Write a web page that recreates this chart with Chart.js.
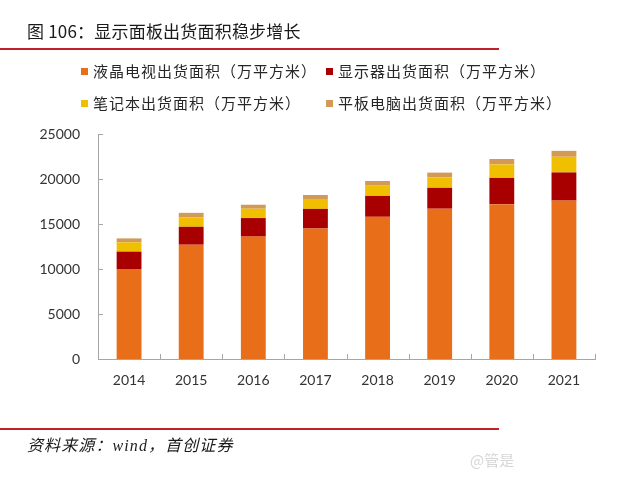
<!DOCTYPE html>
<html>
<head>
<meta charset="utf-8">
<script src="https://cdn.jsdelivr.net/npm/chart.js@4.4.1/dist/chart.umd.min.js"></script>
<style>
  html, body { margin: 0; padding: 0; background: #fff; }
  #wrap { position: relative; width: 640px; height: 480px; overflow: hidden; background: #fff; }
  #c { position: absolute; left: 0; top: 0; }
  .title { position: absolute; left: 27px; top: 18px; font-family: "Noto Sans CJK SC", sans-serif; font-size: 17px; letter-spacing: 0.2px; color: #1a1a1a; white-space: nowrap; }
  .rule { position: absolute; left: 0; width: 499px; height: 2px; background: #C0202A; }
  .leg { position: absolute; font-family: "Noto Sans CJK SC", sans-serif; font-size: 15px; letter-spacing: 1.0px; color: #262626; white-space: nowrap; line-height: 16px; }
  .sw { position: absolute; width: 7px; height: 7px; }
  .src { position: absolute; left: 27px; top: 432px; font-family: "Liberation Serif", "Noto Sans CJK SC", serif; font-style: italic; font-size: 16px; letter-spacing: 1.1px; color: #1a1a1a; white-space: nowrap; }
  .wm { position: absolute; left: 470px; top: 449px; font-family: "Noto Sans CJK SC", sans-serif; font-size: 15px; color: #d6d6d6; white-space: nowrap; }
</style>
</head>
<body>
<div id="wrap">
  <canvas id="c" width="640" height="480"></canvas>
  <div class="title">图 106：显示面板出货面积稳步增长</div>
  <div class="rule" style="top:48px"></div>
  <div id="legend"></div>
  <div class="rule" style="top:428px"></div>
  <div class="src">资料来源：wind，首创证券</div>
  <div class="wm">@管是</div>
</div>
<script>
const years = ['2014', '2015', '2016', '2017', '2018', '2019', '2020', '2021'];
const lcdTv    = [10000, 12700, 13600, 14500, 15800, 16700, 17200, 17600];
const monitor  = [1930, 1990, 2060, 2180, 2320, 2320, 2920, 3130];
const notebook = [1030, 1030, 1040, 1100, 1140, 1170, 1500, 1740];
const tablet   = [440, 520, 440, 440, 520, 520, 600, 660];
const seriesNames = ['液晶电视出货面积（万平方米）', '显示器出货面积（万平方米）', '笔记本出货面积（万平方米）', '平板电脑出货面积（万平方米）'];
const seriesColors = ['#E86E1A', '#A80000', '#F0C000', '#D29A56'];
const yTicks = [0, 5000, 10000, 15000, 20000, 25000];

// HTML legend (2 x 2 grid)
const legendPos = [[81, 63], [326, 63], [81, 95], [326, 95]];
const legendEl = document.getElementById('legend');
seriesNames.forEach((name, i) => {
  const [lx, ly] = legendPos[i];
  const sw = document.createElement('div');
  sw.className = 'sw';
  sw.style.left = lx + 'px';
  sw.style.top = (ly + 5) + 'px';
  sw.style.background = seriesColors[i];
  legendEl.appendChild(sw);
  const t = document.createElement('div');
  t.className = 'leg';
  t.style.left = (lx + 12) + 'px';
  t.style.top = ly + 'px';
  t.textContent = name;
  legendEl.appendChild(t);
});

const axisColor = '#A6A6A6';
const tickMarks = {
  id: 'tickMarks',
  afterDraw(chart) {
    const ctx = chart.ctx;
    const x = chart.scales.x, y = chart.scales.y;
    ctx.save();
    ctx.strokeStyle = axisColor;
    ctx.lineWidth = 1;
    y.ticks.forEach(t => {
      const py = Math.round(y.getPixelForValue(t.value)) + 0.5;
      ctx.beginPath();
      ctx.moveTo(x.left, py);
      ctx.lineTo(x.left + 5, py);
      ctx.stroke();
    });
    const n = years.length;
    const step = (x.right - x.left) / n;
    for (let i = 1; i <= n; i++) {
      const px = Math.round(x.left + step * i) + 0.5;
      ctx.beginPath();
      ctx.moveTo(px, x.top);
      ctx.lineTo(px, x.top - 5);
      ctx.stroke();
    }
    ctx.restore();
  }
};

new Chart(document.getElementById('c'), {
  type: 'bar',
  data: {
    labels: years,
    datasets: [
      { label: seriesNames[0], data: lcdTv, backgroundColor: seriesColors[0] },
      { label: seriesNames[1], data: monitor, backgroundColor: seriesColors[1] },
      { label: seriesNames[2], data: notebook, backgroundColor: seriesColors[2] },
      { label: seriesNames[3], data: tablet, backgroundColor: seriesColors[3] }
    ]
  },
  options: {
    responsive: false,
    animation: false,
    events: [],
    layout: { padding: { top: 134, right: 45, left: 0, bottom: 0 } },
    plugins: { legend: { display: false }, title: { display: false }, tooltip: { enabled: false } },
    datasets: { bar: { categoryPercentage: 1, barPercentage: 0.4 } },
    scales: {
      x: {
        stacked: true,
        grid: { display: false, drawTicks: false, tickLength: 0 },
        border: { display: true, color: axisColor, width: 1 },
        ticks: { color: '#333', font: { family: 'Lato', size: 14 }, padding: 13, maxRotation: 0 },
        afterFit(scale) { scale.height = 121; }
      },
      y: {
        stacked: true,
        min: 0, max: 25000,
        afterBuildTicks(scale) { scale.ticks = yTicks.map(v => ({ value: v })); },
        grid: { display: false, drawTicks: false, tickLength: 0 },
        border: { display: true, color: axisColor, width: 1 },
        ticks: { color: '#333', font: { family: 'Lato', size: 14 }, padding: 18, callback: (v) => String(v) },
        afterFit(scale) { scale.width = 98; }
      }
    }
  },
  plugins: [tickMarks]
});
</script>
</body>
</html>
